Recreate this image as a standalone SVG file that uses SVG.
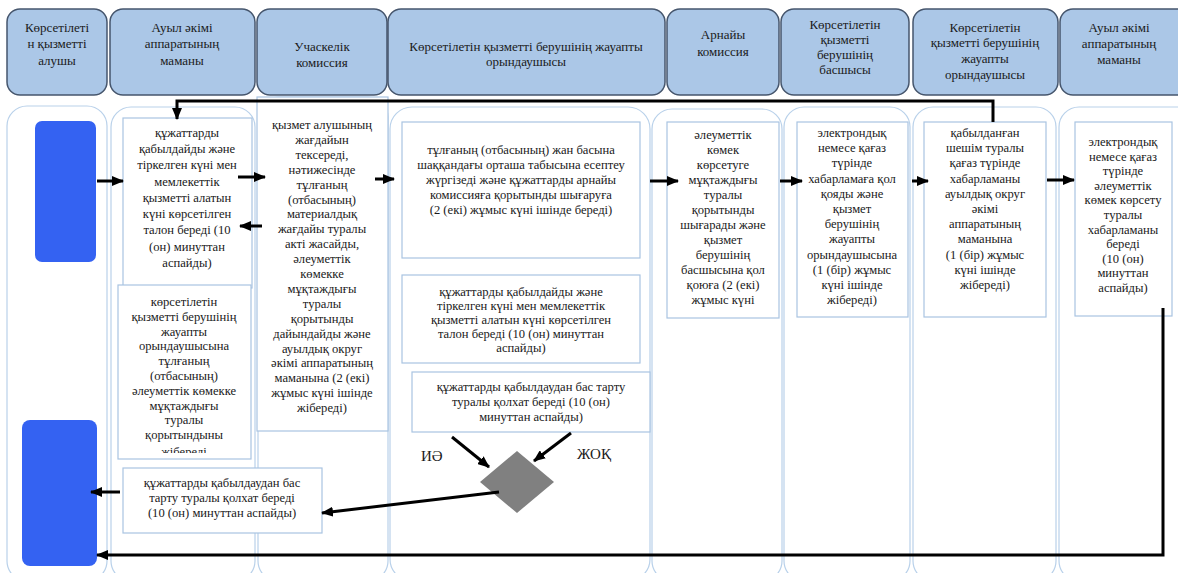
<svg xmlns="http://www.w3.org/2000/svg" width="1178" height="573" viewBox="0 0 1178 573">
<style>
.hdr{fill:#abc7e7;stroke:#46566d;stroke-width:1.5}
.lane{fill:none;stroke:#b9d1ea;stroke-width:1.2}
.box{fill:#ffffff;stroke:#a9c4e2;stroke-width:1.2}
.blue{fill:#3462f2}
.ht{font-family:"Liberation Serif","DejaVu Serif","Times New Roman",serif;font-size:13px;fill:#1a1a1a;text-anchor:middle}
.bt{font-family:"Liberation Serif","DejaVu Serif","Times New Roman",serif;font-size:12.6px;fill:#1a1a1a;text-anchor:middle}
.lbl{font-family:"Liberation Serif","DejaVu Serif","Times New Roman",serif;font-size:15px;fill:#1a1a1a}
.con{fill:none;stroke:#000;stroke-width:3}
</style>
<defs>
<marker id="ah" markerUnits="userSpaceOnUse" viewBox="0 0 12 10" markerWidth="12" markerHeight="10" refX="11" refY="5" orient="auto">
<path d="M0,0 L12,5 L0,10 z" fill="#000"/>
</marker>
<clipPath id="clipB"><rect x="118" y="285" width="134" height="168"/></clipPath>
</defs>
<rect width="1178" height="573" fill="#ffffff"/>

<g id="lanes">
<rect class="lane" x="7" y="106" width="100" height="475" rx="20"/>
<rect class="lane" x="111" y="107" width="144" height="474" rx="20"/>
<rect class="lane" x="258" y="97" width="130" height="484" rx="20"/>
<rect class="lane" x="390" y="107" width="260" height="474" rx="22"/>
<rect class="lane" x="652" y="109" width="130" height="472" rx="20"/>
<rect class="lane" x="784" y="107" width="126" height="474" rx="20"/>
<rect class="lane" x="913" y="107" width="143" height="474" rx="20"/>
<rect class="lane" x="1059" y="107" width="140" height="474" rx="20"/>
</g>

<g id="header">
<g id="h1"><rect class="hdr" x="7" y="9" width="100" height="86" rx="13"/>
<text class="ht"><tspan x="57" y="32">Көрсетілеті</tspan><tspan x="57" y="48">н қызметті</tspan><tspan x="57" y="65">алушы</tspan></text></g>
<g id="h2"><rect class="hdr" x="110" y="9" width="145" height="86" rx="13"/>
<text class="ht"><tspan x="182" y="32">Ауыл әкімі</tspan><tspan x="182" y="48">аппаратының</tspan><tspan x="182" y="65">маманы</tspan></text></g>
<g id="h3"><rect class="hdr" x="257" y="9" width="130" height="86" rx="13"/>
<text class="ht"><tspan x="322" y="51">Учаскелік</tspan><tspan x="322" y="67">комиссия</tspan></text></g>
<g id="h4"><rect class="hdr" x="388" y="9" width="277" height="86" rx="13"/>
<text class="ht"><tspan x="526" y="51">Көрсетілетін қызметті берушінің жауапты</tspan><tspan x="526" y="66">орындаушысы</tspan></text></g>
<g id="h5"><rect class="hdr" x="667" y="9" width="112" height="86" rx="13"/>
<text class="ht"><tspan x="723" y="39">Арнайы</tspan><tspan x="723" y="56">комиссия</tspan></text></g>
<g id="h6"><rect class="hdr" x="781" y="9" width="128" height="86" rx="13"/>
<text class="ht"><tspan x="845" y="29">Көрсетілетін</tspan><tspan x="845" y="44">қызметті</tspan><tspan x="845" y="59">берушінің</tspan><tspan x="845" y="74">басшысы</tspan></text></g>
<g id="h7"><rect class="hdr" x="913" y="9" width="145" height="86" rx="13"/>
<text class="ht"><tspan x="985" y="32">Көрсетілетін</tspan><tspan x="985" y="47">қызметті берушінің</tspan><tspan x="985" y="63">жауапты</tspan><tspan x="985" y="79">орындаушысы</tspan></text></g>
<g id="h8"><rect class="hdr" x="1060" y="9" width="130" height="86" rx="13"/>
<text class="ht"><tspan x="1119" y="32">Ауыл әкімі</tspan><tspan x="1119" y="48">аппаратының</tspan><tspan x="1119" y="64">маманы</tspan></text></g>
</g>

<g id="blueTop"><rect class="blue" x="35" y="121" width="61" height="141" rx="7"/></g>
<g id="blueBottom"><rect class="blue" x="22" y="420" width="75" height="146" rx="8"/></g>

<g id="boxA"><rect class="box" x="123" y="118" width="129" height="170"/>
<text class="bt"><tspan x="187" y="137">құжаттарды</tspan><tspan x="187" y="153">қабылдайды және</tspan><tspan x="187" y="169">тіркелген күні мен</tspan><tspan x="187" y="186">мемлекеттік</tspan><tspan x="187" y="202">қызметті алатын</tspan><tspan x="187" y="218">күні көрсетілген</tspan><tspan x="187" y="234">талон береді (10</tspan><tspan x="187" y="251">(он) минуттан</tspan><tspan x="187" y="267">аспайды)</tspan></text></g>

<g id="boxB"><rect class="box" x="118" y="285" width="133" height="174"/>
<text class="bt" clip-path="url(#clipB)"><tspan x="184" y="306">көрсетілетін</tspan><tspan x="184" y="321">қызметті берушінің</tspan><tspan x="184" y="336">жауапты</tspan><tspan x="184" y="350">орындаушысына</tspan><tspan x="184" y="365">тұлғаның</tspan><tspan x="184" y="380">(отбасының)</tspan><tspan x="184" y="395">әлеуметтік көмекке</tspan><tspan x="184" y="410">мұқтаждығы</tspan><tspan x="184" y="424">туралы</tspan><tspan x="184" y="439">қорытындыны</tspan><tspan x="184" y="456">жібереді</tspan></text></g>

<g id="boxC"><rect class="box" x="257" y="97" width="131" height="334"/>
<text class="bt"><tspan x="322" y="129">қызмет алушының</tspan><tspan x="322" y="144">жағдайын</tspan><tspan x="322" y="159">тексереді,</tspan><tspan x="322" y="174">нәтижесінде</tspan><tspan x="322" y="189">тұлғаның</tspan><tspan x="322" y="204">(отбасының)</tspan><tspan x="322" y="218">материалдық</tspan><tspan x="322" y="233">жағдайы туралы</tspan><tspan x="322" y="248">акті жасайды,</tspan><tspan x="322" y="263">әлеуметтік</tspan><tspan x="322" y="278">көмекке</tspan><tspan x="322" y="293">мұқтаждығы</tspan><tspan x="322" y="308">туралы</tspan><tspan x="322" y="323">қорытынды</tspan><tspan x="322" y="338">дайындайды және</tspan><tspan x="322" y="353">ауылдық округ</tspan><tspan x="322" y="367">әкімі аппаратының</tspan><tspan x="322" y="382">маманына (2 (екі)</tspan><tspan x="322" y="397">жұмыс күні ішінде</tspan><tspan x="322" y="412">жібереді)</tspan></text></g>

<g id="boxD"><rect class="box" x="402" y="122" width="238" height="136"/>
<text class="bt"><tspan x="521" y="154">тұлғаның (отбасының) жан басына</tspan><tspan x="521" y="169">шаққандағы орташа табысына есептеу</tspan><tspan x="521" y="184">жүргізеді және құжаттарды арнайы</tspan><tspan x="521" y="199">комиссияға қорытынды шығаруға</tspan><tspan x="521" y="214">(2 (екі) жұмыс күні ішінде береді)</tspan></text></g>

<g id="boxE"><rect class="box" x="402" y="275" width="238" height="88"/>
<text class="bt"><tspan x="521" y="296">құжаттарды қабылдайды және</tspan><tspan x="521" y="310">тіркелген күні мен мемлекеттік</tspan><tspan x="521" y="324">қызметті алатын күні көрсетілген</tspan><tspan x="521" y="338">талон береді (10 (он) минуттан</tspan><tspan x="521" y="352">аспайды)</tspan></text></g>

<g id="boxF"><rect class="box" x="412" y="372" width="238" height="60"/>
<text class="bt"><tspan x="531" y="391">құжаттарды қабылдаудан бас тарту</tspan><tspan x="531" y="406">туралы қолхат береді (10 (он)</tspan><tspan x="531" y="421">минуттан аспайды)</tspan></text></g>

<g id="boxG"><rect class="box" x="667" y="122" width="112" height="196"/>
<text class="bt"><tspan x="723" y="139">әлеуметтік</tspan><tspan x="723" y="154">көмек</tspan><tspan x="723" y="169">көрсетуге</tspan><tspan x="723" y="184">мұқтаждығы</tspan><tspan x="723" y="199">туралы</tspan><tspan x="723" y="214">қорытынды</tspan><tspan x="723" y="229">шығарады және</tspan><tspan x="723" y="244">қызмет</tspan><tspan x="723" y="259">берушінің</tspan><tspan x="723" y="274">басшысына қол</tspan><tspan x="723" y="289">қоюға (2 (екі)</tspan><tspan x="723" y="304">жұмыс күні</tspan></text></g>

<g id="boxH"><rect class="box" x="797" y="122" width="111" height="195"/>
<text class="bt"><tspan x="852" y="137">электрондық</tspan><tspan x="852" y="152">немесе қағаз</tspan><tspan x="852" y="167">түрінде</tspan><tspan x="852" y="183">хабарламаға қол</tspan><tspan x="852" y="198">қояды және</tspan><tspan x="852" y="213">қызмет</tspan><tspan x="852" y="228">берушінің</tspan><tspan x="852" y="243">жауапты</tspan><tspan x="852" y="259">орындаушысына</tspan><tspan x="852" y="274">(1 (бір) жұмыс</tspan><tspan x="852" y="289">күні ішінде</tspan><tspan x="852" y="304">жібереді)</tspan></text></g>

<g id="boxI"><rect class="box" x="924" y="122" width="122" height="195"/>
<text class="bt"><tspan x="985" y="137">қабылданған</tspan><tspan x="985" y="152">шешім туралы</tspan><tspan x="985" y="167">қағаз түрінде</tspan><tspan x="985" y="183">хабарламаны</tspan><tspan x="985" y="198">ауылдық округ</tspan><tspan x="985" y="213">әкімі</tspan><tspan x="985" y="228">аппаратының</tspan><tspan x="985" y="243">маманына</tspan><tspan x="985" y="259">(1 (бір) жұмыс</tspan><tspan x="985" y="274">күні ішінде</tspan><tspan x="985" y="289">жібереді)</tspan></text></g>

<g id="boxJ"><rect class="box" x="1075" y="122" width="97" height="194"/>
<text class="bt"><tspan x="1123" y="146">электрондық</tspan><tspan x="1123" y="161">немесе қағаз</tspan><tspan x="1123" y="175">түрінде</tspan><tspan x="1123" y="190">әлеуметтік</tspan><tspan x="1123" y="204">көмек көрсету</tspan><tspan x="1123" y="219">туралы</tspan><tspan x="1123" y="234">хабарламаны</tspan><tspan x="1123" y="248">береді</tspan><tspan x="1123" y="263">(10 (он)</tspan><tspan x="1123" y="277">минуттан</tspan><tspan x="1123" y="292">аспайды)</tspan></text></g>

<g id="boxK"><rect class="box" x="123" y="468" width="199" height="65"/>
<text class="bt"><tspan x="222" y="487">құжаттарды қабылдаудан бас</tspan><tspan x="222" y="502">тарту туралы қолхат береді</tspan><tspan x="222" y="517">(10 (он) минуттан аспайды)</tspan></text></g>

<g id="decision"><polygon points="517,451 554,482 517,513 480,482" fill="#808080"/>
<text class="lbl" x="421" y="461">ИӘ</text>
<text class="lbl" x="577" y="459">ЖОҚ</text></g>

<g id="connectors">
<path class="con" d="M97,181 L123,181" marker-end="url(#ah)"/>
<path class="con" d="M238,177 L265,177" marker-end="url(#ah)"/>
<path class="con" d="M262,226 L240,226" marker-end="url(#ah)"/>
<path class="con" d="M375,179 L394,179" marker-end="url(#ah)"/>
<path class="con" d="M650,181 L678,181" marker-end="url(#ah)"/>
<path class="con" d="M780,181 L802,181" marker-end="url(#ah)"/>
<path class="con" d="M912,181 L928,181" marker-end="url(#ah)"/>
<path class="con" d="M1047,180 L1074,180" marker-end="url(#ah)"/>
<path class="con" d="M993,122 L993,101 L177,101 L177,119" marker-end="url(#ah)"/>
<path class="con" d="M1163,308 L1163,555 L97,555" marker-end="url(#ah)"/>
<path class="con" d="M120,492 L91,492" marker-end="url(#ah)"/>
<path class="con" d="M499,492 L322,513" marker-end="url(#ah)"/>
<path class="con" d="M452,437 L489,467" marker-end="url(#ah)"/>
<path class="con" d="M571,433 L534,461" marker-end="url(#ah)"/>
</g>
</svg>
